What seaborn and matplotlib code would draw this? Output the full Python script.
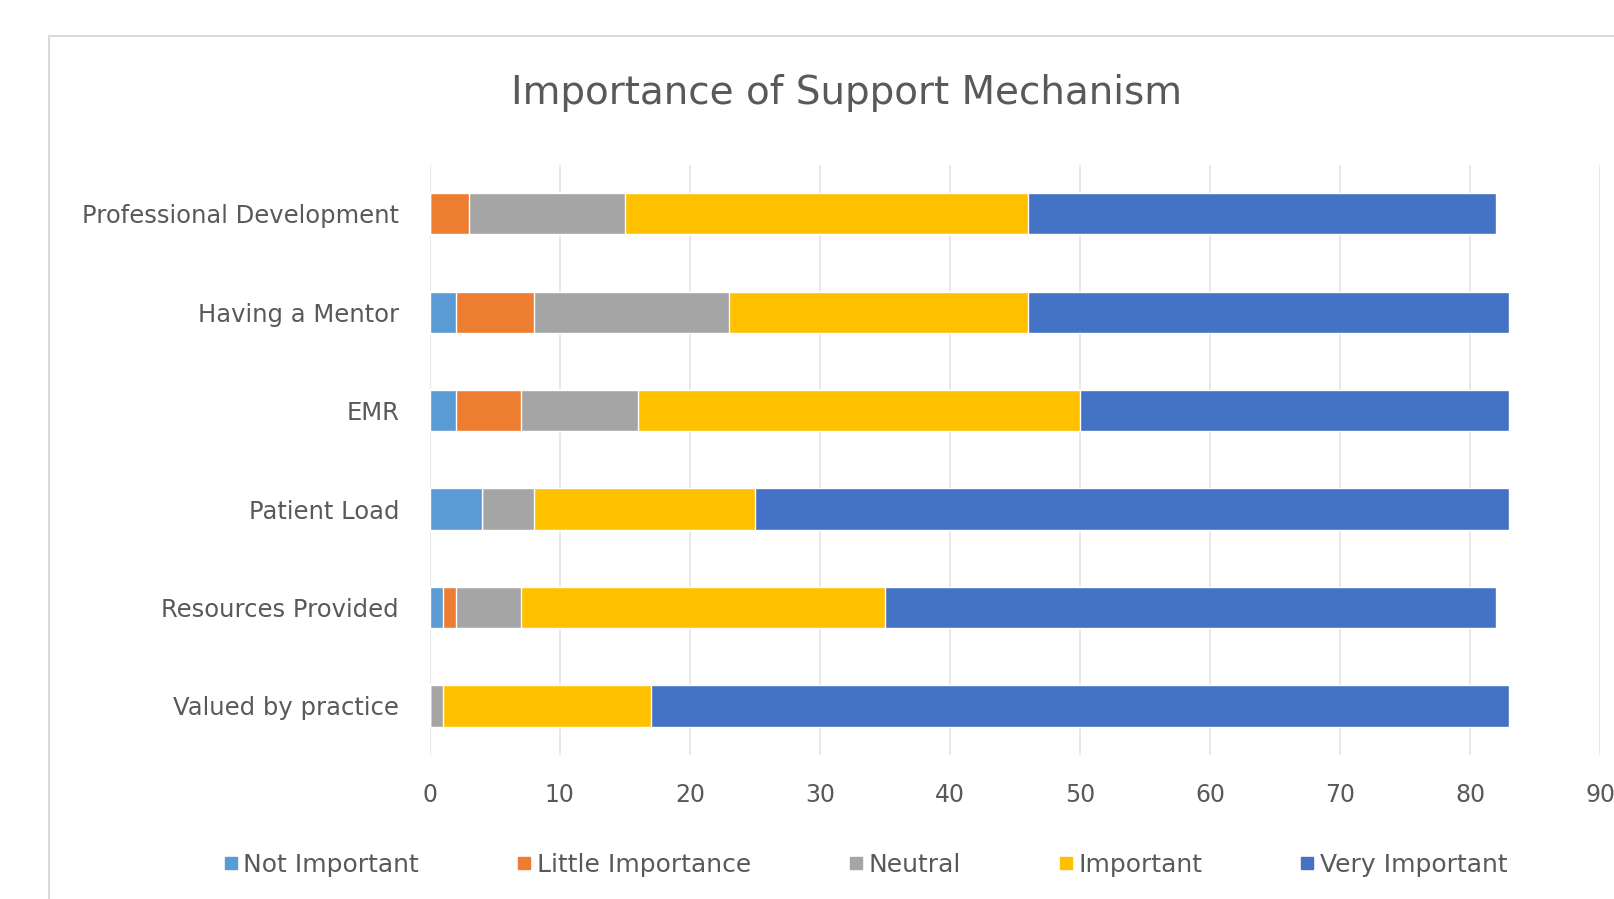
import matplotlib
matplotlib.use("Agg")
import matplotlib.pyplot as plt
import seaborn as sns
import pandas as pd
import numpy as np
from matplotlib.patches import Rectangle
from matplotlib.lines import Line2D

categories = ["Professional Development", "Having a Mentor", "EMR",
              "Patient Load", "Resources Provided", "Valued by practice"]
series_names = ["Not Important", "Little Importance", "Neutral",
                "Important", "Very Important"]
not_important = [0, 2, 2, 4, 1, 0]
little_importance = [3, 6, 5, 0, 1, 0]
neutral = [12, 15, 9, 4, 5, 1]
important = [31, 23, 34, 17, 28, 16]
very_important = [36, 37, 33, 58, 47, 66]
xticks = [0, 10, 20, 30, 40, 50, 60, 70, 80, 90]
colors = ["#5B9BD5", "#ED7D31", "#A5A5A5", "#FFC000", "#4472C4"]

sns.set_theme(style="white")
plt.rcParams["font.family"] = ["DejaVu Sans"]

values = [not_important, little_importance, neutral, important, very_important]
cum = np.cumsum(np.array(values, dtype=float), axis=0)

fig = plt.figure(figsize=(16.15, 8.99), dpi=100)
ax = fig.add_axes([0.266, 0.160, 0.725, 0.657])

# draw cumulative totals from largest to smallest so that each stack segment shows
for i in range(len(series_names) - 1, -1, -1):
    df = pd.DataFrame({"cat": categories, "val": cum[i]})
    sns.barplot(data=df, x="val", y="cat", orient="h", color=colors[i],
                saturation=1, width=0.42, ax=ax, zorder=3)

ax.set_xlim(0, 90)
ax.set_xticks(xticks)
ax.set_xticklabels([str(t) for t in xticks])
ax.set_xlabel("")
ax.set_ylabel("")
ax.grid(axis="x", color="#E6E6E6", linewidth=1.3, zorder=0)
ax.set_axisbelow(True)
for s in ax.spines.values():
    s.set_visible(False)
ax.tick_params(axis="y", length=0, pad=22, labelsize=17.5, labelcolor="#595959")
ax.tick_params(axis="x", length=0, pad=20, labelsize=17, labelcolor="#595959")

fig.text(0.524, 0.897, "Importance of Support Mechanism", ha="center", va="center",
         fontsize=28, color="#595959")

handles = [Line2D([0], [0], marker="s", linestyle="none", markersize=8,
                  markerfacecolor=c, markeredgecolor=c) for c in colors]
fig.legend(handles, series_names, loc="center", bbox_to_anchor=(0.535, 0.038),
           ncol=5, frameon=False, fontsize=18, labelcolor="#595959",
           handletextpad=0.1, columnspacing=3.8, handlelength=0.8)

fig.patches.append(Rectangle((49 / 1615, -0.05), 1.2, 1.01,
                             transform=fig.transFigure, fill=False,
                             edgecolor="#D9D9D9", linewidth=1.5, zorder=0))

fig.savefig("out.png", dpi=100, facecolor="white")
